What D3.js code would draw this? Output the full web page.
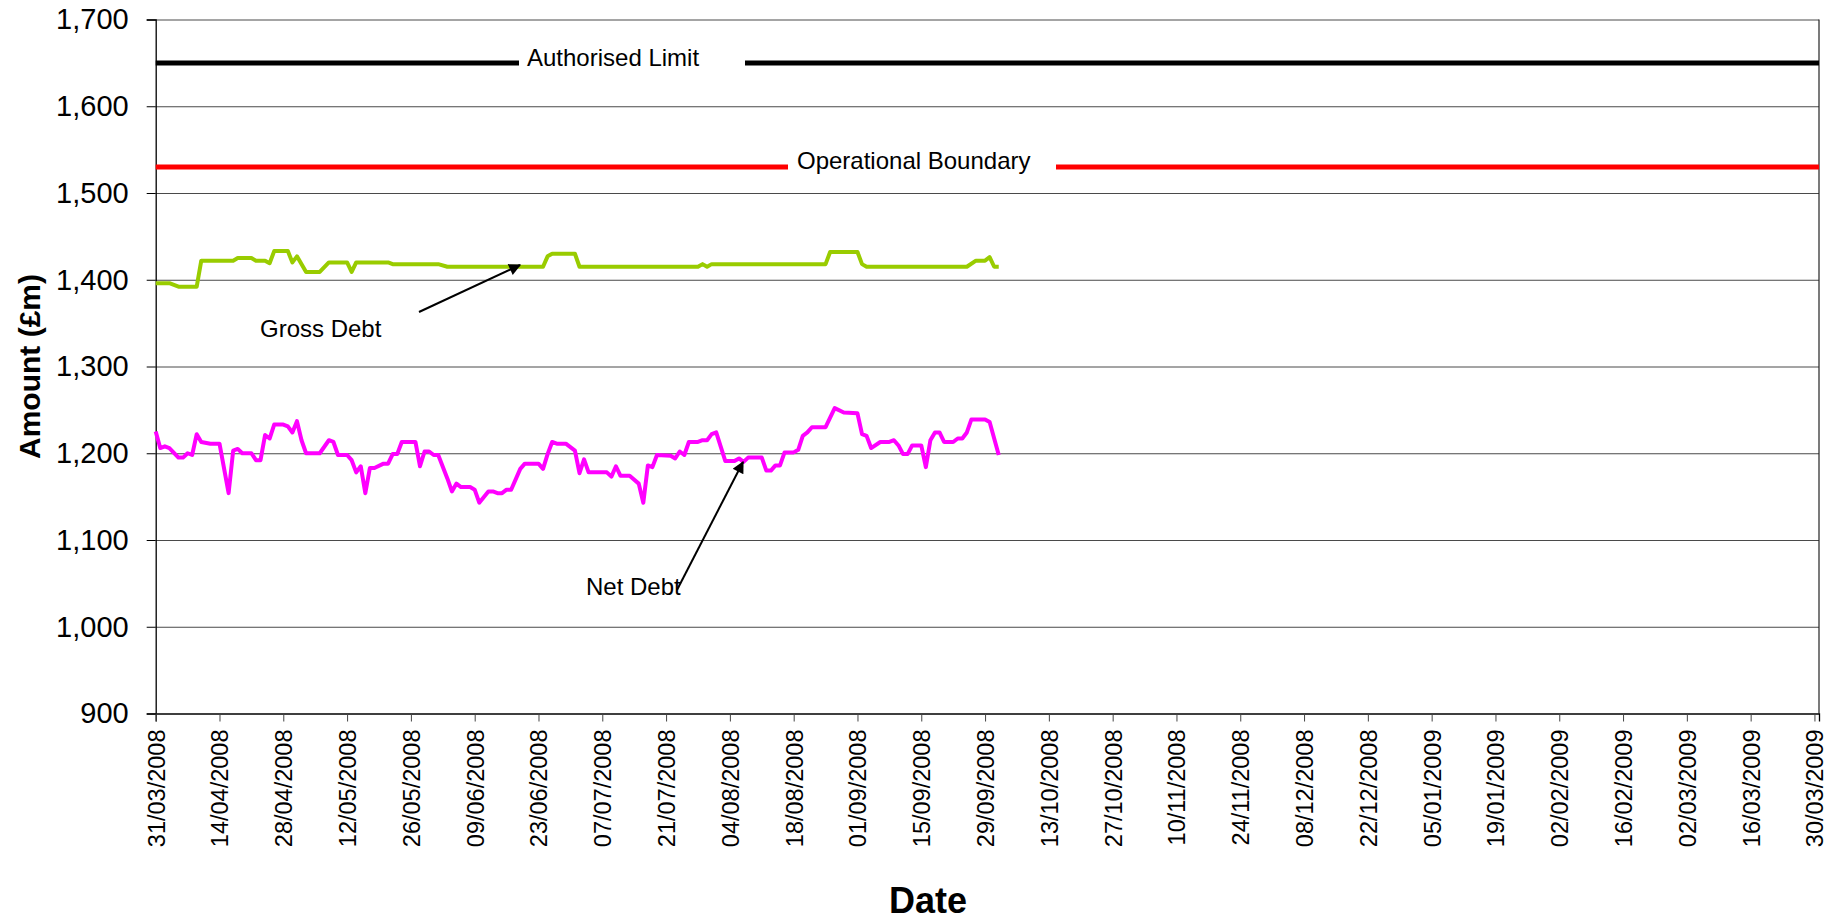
<!DOCTYPE html>
<html>
<head>
<meta charset="utf-8">
<script src="https://cdn.jsdelivr.net/npm/d3@7"></script>
<style>
  html, body { margin: 0; padding: 0; background: #fff; }
  svg { display: block; font-family: "Liberation Sans", Arial, sans-serif; }
</style>
</head>
<body>
<div id="chart"></div>
<script>
// Daily debt positions (DD/MM/YYYY, £m)
const netDates = ["31/03/2008","01/04/2008","02/04/2008","03/04/2008","05/04/2008","06/04/2008","07/04/2008","08/04/2008","09/04/2008","10/04/2008","12/04/2008","14/04/2008","16/04/2008","17/04/2008","18/04/2008","19/04/2008","21/04/2008","22/04/2008","23/04/2008","24/04/2008","25/04/2008","26/04/2008","28/04/2008","29/04/2008","30/04/2008","01/05/2008","02/05/2008","03/05/2008","06/05/2008","08/05/2008","09/05/2008","10/05/2008","12/05/2008","13/05/2008","14/05/2008","15/05/2008","16/05/2008","17/05/2008","18/05/2008","20/05/2008","21/05/2008","22/05/2008","23/05/2008","24/05/2008","27/05/2008","28/05/2008","29/05/2008","30/05/2008","31/05/2008","01/06/2008","03/06/2008","04/06/2008","05/06/2008","06/06/2008","08/06/2008","09/06/2008","10/06/2008","12/06/2008","13/06/2008","14/06/2008","15/06/2008","16/06/2008","17/06/2008","19/06/2008","20/06/2008","23/06/2008","24/06/2008","25/06/2008","26/06/2008","27/06/2008","29/06/2008","01/07/2008","02/07/2008","03/07/2008","04/07/2008","08/07/2008","09/07/2008","10/07/2008","11/07/2008","13/07/2008","15/07/2008","16/07/2008","17/07/2008","18/07/2008","19/07/2008","22/07/2008","23/07/2008","24/07/2008","25/07/2008","26/07/2008","28/07/2008","29/07/2008","30/07/2008","31/07/2008","01/08/2008","03/08/2008","05/08/2008","06/08/2008","07/08/2008","08/08/2008","11/08/2008","12/08/2008","13/08/2008","14/08/2008","15/08/2008","16/08/2008","18/08/2008","19/08/2008","20/08/2008","21/08/2008","22/08/2008","25/08/2008","27/08/2008","29/08/2008","01/09/2008","02/09/2008","03/09/2008","04/09/2008","06/09/2008","08/09/2008","09/09/2008","10/09/2008","11/09/2008","12/09/2008","13/09/2008","15/09/2008","16/09/2008","17/09/2008","18/09/2008","19/09/2008","20/09/2008","22/09/2008","23/09/2008","24/09/2008","25/09/2008","26/09/2008","29/09/2008","30/09/2008","02/10/2008"];
const netValues = [1225,1206,1208,1206,1195,1195,1200,1198,1222,1213,1211,1211,1154,1203,1205,1200,1200,1192,1192,1221,1217,1233,1233,1231,1224,1237,1215,1200,1200,1215,1213,1198,1198,1192,1178,1185,1154,1183,1183,1188,1188,1199,1199,1213,1213,1185,1202,1202,1198,1198,1171,1156,1165,1161,1161,1158,1143,1156,1156,1154,1154,1158,1158,1182,1188,1188,1182,1199,1213,1211,1211,1203,1177,1193,1178,1178,1173,1185,1174,1174,1165,1143,1186,1184,1198,1197,1194,1202,1198,1213,1213,1215,1215,1222,1224,1191,1191,1194,1190,1195,1195,1180,1180,1186,1186,1201,1201,1204,1220,1224,1230,1230,1252,1247,1246,1222,1220,1206,1213,1213,1215,1209,1199,1199,1209,1209,1184,1215,1224,1224,1213,1213,1217,1217,1224,1239,1239,1236,1198];

const grossDates = ["31/03/2008","03/04/2008","05/04/2008","09/04/2008","10/04/2008","17/04/2008","18/04/2008","21/04/2008","22/04/2008","24/04/2008","25/04/2008","26/04/2008","29/04/2008","30/04/2008","01/05/2008","03/05/2008","06/05/2008","08/05/2008","12/05/2008","13/05/2008","14/05/2008","21/05/2008","22/05/2008","01/06/2008","03/06/2008","24/06/2008","25/06/2008","26/06/2008","01/07/2008","02/07/2008","28/07/2008","29/07/2008","30/07/2008","31/07/2008","25/08/2008","26/08/2008","01/09/2008","02/09/2008","03/09/2008","25/09/2008","27/09/2008","29/09/2008","30/09/2008","01/10/2008","02/10/2008"];
const grossValues = [1396,1396,1392,1392,1422,1422,1425,1425,1422,1422,1419,1433,1433,1420,1427,1409,1409,1420,1420,1409,1420,1420,1418,1418,1415,1415,1427,1430,1430,1415,1415,1418,1415,1418,1418,1432,1432,1418,1415,1415,1422,1422,1426,1415,1415];

const authorisedLimit = 1650;
const operationalBoundary = 1530;

const xTickLabels = ["31/03/2008","14/04/2008","28/04/2008","12/05/2008","26/05/2008","09/06/2008","23/06/2008","07/07/2008","21/07/2008","04/08/2008","18/08/2008","01/09/2008","15/09/2008","29/09/2008","13/10/2008","27/10/2008","10/11/2008","24/11/2008","08/12/2008","22/12/2008","05/01/2009","19/01/2009","02/02/2009","16/02/2009","02/03/2009","16/03/2009","30/03/2009"];
const yTickValues = [900,1000,1100,1200,1300,1400,1500,1600,1700];
const axisStart = "31/03/2008";
const axisEnd = "31/03/2009";

const W = 1836, H = 921;
const margin = { top: 19.5, right: 17, bottom: 207.5, left: 155.7 };
const width = W - margin.left - margin.right;
const height = H - margin.top - margin.bottom;

const parse = d3.timeParse("%d/%m/%Y");

const svg = d3.select("#chart").append("svg")
  .attr("width", W)
  .attr("height", H);

const g = svg.append("g")
  .attr("transform", `translate(${margin.left},${margin.top})`);

const x = d3.scaleTime()
  .domain([parse(axisStart), parse(axisEnd)])
  .range([0, width]);

const y = d3.scaleLinear()
  .domain([900, 1700])
  .range([height, 0]);

// Gridlines
const grid = g.append("g")
  .call(d3.axisLeft(y).tickValues(yTickValues.slice(1)).tickSize(-width).tickFormat(""));
grid.select(".domain").remove();
grid.selectAll("line").attr("stroke", "#4a4a4a").attr("stroke-width", 1);

// Right border of plot area
g.append("line")
  .attr("x1", width).attr("x2", width)
  .attr("y1", 0).attr("y2", height)
  .attr("stroke", "#222").attr("stroke-width", 1.2);

// Y axis
const yAxis = g.append("g")
  .call(d3.axisLeft(y).tickValues(yTickValues).tickFormat(d3.format(",")).tickSize(9).tickPadding(18));
yAxis.select(".domain").attr("stroke", "#000").attr("stroke-width", 1.3);
yAxis.selectAll(".tick line").attr("stroke", "#000");
yAxis.selectAll("text")
  .style("font-size", "29px")
  .style("fill", "#000");

// X axis
const xAxis = g.append("g")
  .attr("transform", `translate(0,${height})`)
  .call(d3.axisBottom(x)
    .tickValues(xTickLabels.map(parse))
    .tickFormat(d3.timeFormat("%d/%m/%Y"))
    .tickSize(8));
xAxis.select(".domain").attr("stroke", "#000").attr("stroke-width", 1.3);
xAxis.selectAll(".tick line").attr("stroke", "#444");
xAxis.selectAll("text")
  .attr("transform", "rotate(-90)")
  .attr("x", -16)
  .attr("y", 0)
  .attr("dy", "0.36em")
  .style("text-anchor", "end")
  .style("font-size", "23.5px")
  .style("fill", "#000");

// Axis titles
svg.append("text")
  .attr("transform", `translate(40,${margin.top + height / 2}) rotate(-90)`)
  .style("text-anchor", "middle")
  .style("font-size", "30px")
  .style("font-weight", "bold")
  .text("Amount (£m)");

svg.append("text")
  .attr("x", 928)
  .attr("y", 913)
  .style("text-anchor", "middle")
  .style("font-size", "36px")
  .style("font-weight", "bold")
  .text("Date");

// Limit lines
const [x0, x1] = x.domain();
g.append("line")
  .attr("x1", x(x0)).attr("x2", x(x1))
  .attr("y1", y(authorisedLimit)).attr("y2", y(authorisedLimit))
  .attr("stroke", "#000").attr("stroke-width", 5);

g.append("line")
  .attr("x1", x(x0)).attr("x2", x(x1))
  .attr("y1", y(operationalBoundary)).attr("y2", y(operationalBoundary))
  .attr("stroke", "#ff0000").attr("stroke-width", 5);

// Debt series
const line = d3.line()
  .x(d => x(d.date))
  .y(d => y(d.value));

const grossData = grossDates.map((d, i) => ({ date: parse(d), value: grossValues[i] }));
const netData = netDates.map((d, i) => ({ date: parse(d), value: netValues[i] }));

g.append("path")
  .datum(grossData)
  .attr("fill", "none")
  .attr("stroke", "#99cc00")
  .attr("stroke-width", 4)
  .attr("stroke-linejoin", "round")
  .attr("d", line);

g.append("path")
  .datum(netData)
  .attr("fill", "none")
  .attr("stroke", "#ff00ff")
  .attr("stroke-width", 4)
  .attr("stroke-linejoin", "round")
  .attr("d", line);

// Labels on the limit lines (white box breaks the line)
svg.append("rect")
  .attr("x", 519).attr("y", 50).attr("width", 226).attr("height", 24)
  .attr("fill", "#fff");
svg.append("text")
  .attr("x", 527).attr("y", 65.5)
  .style("font-size", "24px")
  .text("Authorised Limit");

svg.append("rect")
  .attr("x", 788).attr("y", 154).attr("width", 268).attr("height", 24)
  .attr("fill", "#fff");
svg.append("text")
  .attr("x", 797).attr("y", 169)
  .style("font-size", "24px")
  .text("Operational Boundary");

// Arrow annotations
svg.append("defs").append("marker")
  .attr("id", "arrow")
  .attr("viewBox", "0 0 10 10")
  .attr("refX", 9).attr("refY", 5)
  .attr("markerWidth", 7).attr("markerHeight", 6)
  .attr("markerUnits", "strokeWidth")
  .attr("orient", "auto")
  .append("path")
  .attr("d", "M0,0 L10,5 L0,10 z")
  .attr("fill", "#000");

svg.append("line")
  .attr("x1", 419).attr("y1", 312)
  .attr("x2", 520).attr("y2", 265)
  .attr("stroke", "#000").attr("stroke-width", 2)
  .attr("marker-end", "url(#arrow)");

svg.append("text")
  .attr("x", 260).attr("y", 337)
  .style("font-size", "24px")
  .text("Gross Debt");

svg.append("line")
  .attr("x1", 677).attr("y1", 590)
  .attr("x2", 743).attr("y2", 462)
  .attr("stroke", "#000").attr("stroke-width", 2)
  .attr("marker-end", "url(#arrow)");

svg.append("text")
  .attr("x", 586).attr("y", 595)
  .style("font-size", "24px")
  .text("Net Debt");
</script>
</body>
</html>
